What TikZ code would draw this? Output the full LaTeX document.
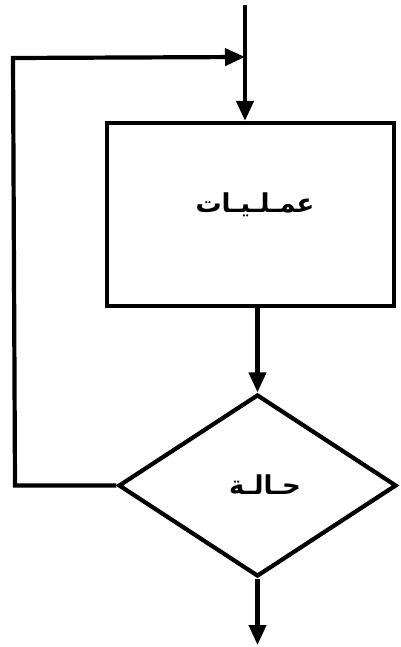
\documentclass[tikz,border=0pt]{standalone}
\usepackage{fontspec}
\newfontfamily\arabicfont[Script=Arabic]{DejaVu Sans}
\TeXXeTstate=1
\usetikzlibrary{arrows.meta,shapes.geometric}
\begin{document}
\begin{tikzpicture}[x=1pt,y=-1pt,
  flow/.style={line width=4.2pt,line join=miter},
  arr/.style={flow,-{Triangle[length=20pt,width=17pt]}},
  lbl/.style={font=\arabicfont\bfseries\fontsize{26}{30}\selectfont},
  procbox/.style={draw,line width=4.2pt,minimum width=287pt,minimum height=183pt,inner sep=0pt},
  decision/.style={draw,diamond,line width=4.2pt,minimum width=278pt,minimum height=182pt,inner sep=0pt}]
\useasboundingbox (0,0) rectangle (400,647);
\node[procbox] (box) at (250.5,214.5) {};
\node[lbl] (t1) at (255,205) {\beginR عمـلـيـات\endR};
\node[decision] (dia) at (257.5,485.5) {};
\node[lbl] (t2) at (265,485) {\beginR حـالـة\endR};
\coordinate (top) at (245,5);
\coordinate (join) at (245,57);
\coordinate (c1) at (13,58);
\coordinate (c2) at (15,485.5);
\coordinate (end) at (257.5,645);
\draw[arr] (top) -- (top |- box.north);
\draw[arr] (dia.west) -- (c2) -- (c1) -- (join);
\draw[arr] (dia.north |- box.south) -- (dia.north);
\draw[arr] (dia.south) -- (end);
\end{tikzpicture}
\end{document}
